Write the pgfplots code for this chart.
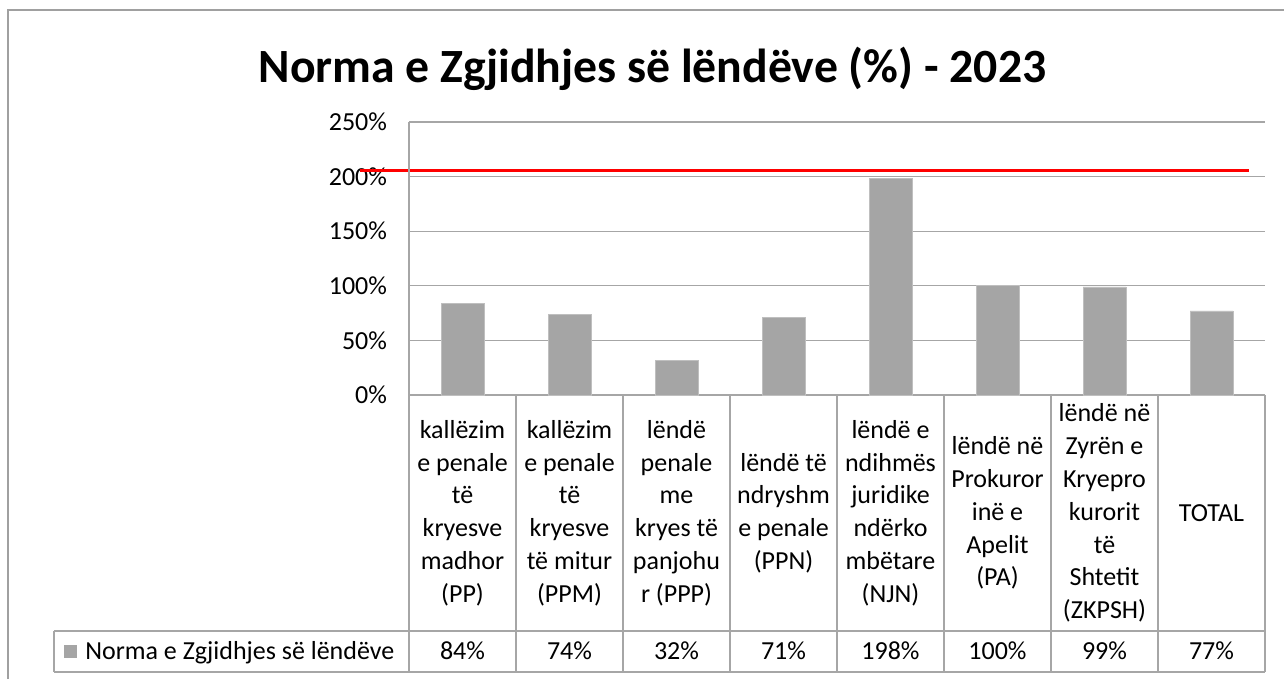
\documentclass[border=0pt]{standalone}
\usepackage{fontspec}
\setmainfont{Carlito}
\usepackage{pgfplots}
\pgfplotsset{compat=1.18}

\definecolor{barfill}{HTML}{A5A5A5}
\definecolor{baredge}{HTML}{BFBFBF}
\definecolor{gridc}{HTML}{A6A6A6}
\definecolor{framec}{HTML}{A0A0A0}

\begin{document}
\begin{tikzpicture}[x=1pt,y=1pt]
\useasboundingbox (0,0) rectangle (963,-509.25);
% outer chart frame (right and bottom edges fall outside the picture)
\draw[framec, line width=1.1pt] (6,-509.25) -- (6,-7.5) -- (963,-7.5);
\node[font=\fontsize{35.8}{40}\selectfont\bfseries, anchor=base] at (489.4,-61.5)
  {Norma e Zgjidhjes së lëndëve (\%) - 2023};

\begin{axis}[
  at={(306.75pt,-296.25pt)}, anchor=south west,
  scale only axis, width=642pt, height=204.75pt,
  xmin=-0.5, xmax=7.5, ymin=0, ymax=250,
  clip=false,
  axis line style={draw=none},
  major tick length=0,
  ymajorgrids, grid style={gridc, line width=0.9pt},
  ytick={0,50,...,250},
  yticklabel={\pgfmathprintnumber{\tick}\%},
  /pgf/number format/assume math mode=true,
  yticklabel style={xshift=-13pt, font=\fontsize{19.5}{24}\selectfont},
  xtick={0,...,7},
  xticklabels={{kallëzim\\e penale\\të\\kryesve\\madhor\\(PP)},
    {kallëzim\\e penale\\të\\kryesve\\të mitur\\(PPM)},
    {lëndë\\penale\\me\\kryes të\\panjohu\\r (PPP)},
    {lëndë të\\ndryshm\\e penale\\(PPN)},
    {lëndë e\\ndihmës\\juridike\\ndërko\\mbëtare\\(NJN)},
    {lëndë në\\Prokuror\\inë e\\Apelit\\(PA)},
    {lëndë në\\Zyrën e\\Kryepro\\kurorit\\të\\Shtetit\\(ZKPSH)},
    {TOTAL}},
  xticklabel style={anchor=center, yshift=-88.5pt, align=center,
    font=\fontsize{19.5}{24.6}\selectfont},
]
\addplot[ybar, bar width=32.25pt, fill=barfill, draw=baredge, line width=0.6pt]
  coordinates {(0,84) (1,74) (2,32) (3,71) (4,198) (5,100) (6,99) (7,77)};
% target line
\addplot[red, line width=2.25pt] coordinates {(-0.958,206) (7.35,206)};
% value row of the data table
\addplot[draw=none, mark=none, nodes near coords, point meta=explicit symbolic,
  nodes near coords style={anchor=base, inner sep=0pt, font=\fontsize{19.5}{24}\selectfont}]
  coordinates {(0,-241.8) [84\%] (1,-241.8) [74\%] (2,-241.8) [32\%] (3,-241.8) [71\%]
    (4,-241.8) [198\%] (5,-241.8) [100\%] (6,-241.8) [99\%] (7,-241.8) [77\%]};
\end{axis}

% data table frame
\draw[gridc, line width=0.9pt] (306.75,-91.5) -- (306.75,-504);
\foreach \k in {1,...,8}
  \draw[gridc, line width=0.9pt] (306.75+80.25*\k,-296.25) -- (306.75+80.25*\k,-504);
\draw[gridc, line width=0.9pt] (40.5,-473.25) -- (948.75,-473.25)
  (40.5,-504) -- (948.75,-504) (40.5,-473.25) -- (40.5,-504);
% legend key
\fill[barfill] (48,-483.75) rectangle (57.75,-493.5);
\node[anchor=base west, inner sep=0pt, font=\fontsize{19.5}{24}\selectfont] at (63.75,-494.25)
  {Norma e Zgjidhjes së lëndëve};
\end{tikzpicture}
\end{document}
